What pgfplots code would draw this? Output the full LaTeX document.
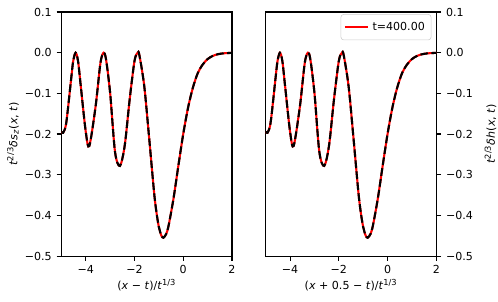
\documentclass[border=0pt]{standalone}
\usepackage{fontspec}
\setmainfont{DejaVu Sans}
\usepackage{pgfplots}
\pgfplotsset{compat=1.18}
\usepackage{pgfplotstable}
\pgfplotstableread{
x y
-5.00 -0.1937
-4.93 -0.1970
-4.80 -0.1719
-4.60 -0.0638
-4.517 -0.0209
-4.417 0.0000
-4.317 -0.0209
-4.20 -0.0852
-4.00 -0.1949
-3.856 -0.2294
-3.60 -0.1333
-3.40 -0.0259
-3.27 0.0000
-3.17 -0.0160
-3.00 -0.0993
-2.80 -0.2438
-2.598 -0.2783
-2.40 -0.2274
-2.20 -0.1154
-2.00 -0.0201
-1.87 0.0000
-1.80 -0.0060
-1.60 -0.0820
-1.40 -0.2089
-1.20 -0.3415
-1.10 -0.3923
-1.00 -0.4286
-0.90 -0.4495
-0.815 -0.4549
-0.70 -0.4457
-0.60 -0.4248
-0.40 -0.3587
-0.20 -0.2779
0.00 -0.1998
0.20 -0.1345
0.40 -0.0851
0.60 -0.0496
0.80 -0.0290
1.00 -0.0157
1.20 -0.0082
1.40 -0.0040
1.60 -0.0019
1.80 -0.0009
2.00 -0.0004
}\datal
\pgfplotsset{
  myax/.style={
    scale only axis, width=123.3pt, height=176.4pt,
    xmin=-5, xmax=2, ymin=-0.5, ymax=0.1,
    xtick={-4,-2,0,2}, xticklabels={−4,−2,0,2},
    ytick={-0.5,-0.4,-0.3,-0.2,-0.1,0,0.1},
    yticklabels={−0.5,−0.4,−0.3,−0.2,−0.1,0.0,0.1},
    tick align=outside, major tick length=3.5pt,
    axis line style={line width=0.8pt},
    every tick/.style={black, line width=0.8pt},
    tick label style={font=\fontsize{8}{9.6}\selectfont},
    label style={font=\fontsize{8}{9.6}\selectfont},
    xtick pos=bottom,
    xlabel style={at={(axis description cs:0.5,-0.118)}, anchor=center},
  },
  redl/.style={red, line width=1.5pt, smooth},
  blkd/.style={black, line width=1.5pt, dash pattern=on 5.55pt off 2.4pt, smooth},
}
\begin{document}
\begin{tikzpicture}
\path[use as bounding box] (0,0) rectangle (360pt,217.6pt);
\begin{axis}[myax, at={(44.4pt,32.5pt)}, anchor=south west,
  ytick pos=left,
  xlabel={(\textit{x} − \textit{t})/\textit{t}\textsuperscript{1/3}},
  ylabel={\textit{t}\textsuperscript{2/3}\textit{δs}\textsubscript{\textit{z}}(\textit{x}, \textit{t})},
  ylabel style={at={(axis description cs:-0.284,0.5)}, anchor=center},
]
\addplot[redl] table[x=x,y=y] {\datal};
\addplot[blkd] table[x=x,y=y] {\datal};
\end{axis}
\begin{axis}[myax, at={(192.1pt,32.5pt)}, anchor=south west,
  ytick pos=right, yticklabel pos=right,
  xlabel={(\textit{x} + 0.5 − \textit{t})/\textit{t}\textsuperscript{1/3}},
  ylabel={\textit{t}\textsuperscript{2/3}\textit{δh}(\textit{x}, \textit{t})},
  ylabel style={at={(axis description cs:1.318,0.5)}, anchor=center},
  legend style={at={(0.971,0.9915)}, anchor=north east, draw=black!20, rounded corners=2pt,
    font=\fontsize{8}{9.6}\selectfont, inner xsep=2pt, inner ysep=3pt,
    nodes={inner sep=2.5pt}},
  legend image code/.code={\draw[red, line width=1.5pt] (0,0) -- (16.8pt,0);},
]
\addplot[redl] table[x=x,y=y] {\datal};
\addlegendentry{t=400.00}
\addplot[blkd, forget plot] table[x=x,y=y] {\datal};
\end{axis}
\end{tikzpicture}
\end{document}
